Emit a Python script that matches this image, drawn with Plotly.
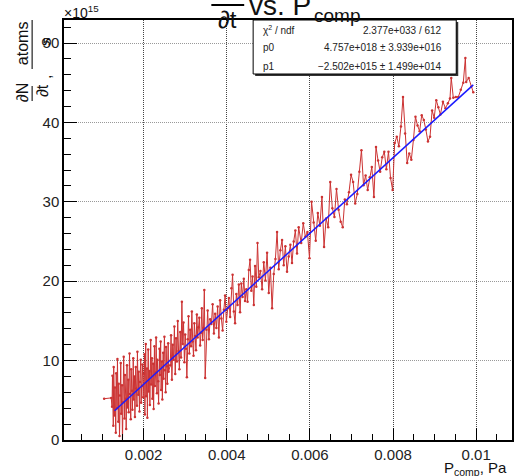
import plotly.graph_objects as go

# ---------------- data (x in Pa, y in units of 1e15 atoms/s) ----------------
x0 = [0.00105, 0.00122]
y0 = [5.2, 5.3]

xA = [0.00124,0.00125,0.00127,0.00128,0.00130,0.00131,0.00133,0.00134,0.00136,0.00137,
      0.00139,0.00140,0.00142,0.00143,0.00145,0.00146,0.00148,0.00149,0.00151,0.00152,
      0.00154,0.00155,0.00157,0.00158,0.00160,0.00161,0.00163,0.00164,0.00166,0.00167,
      0.00169,0.00170,0.00172,0.00173,0.00175,0.00176,0.00178,0.00179,0.00181,0.00182,
      0.00184,0.00185,0.00187,0.00188,0.00190,0.00191,0.00193,0.00194,0.00196,0.00197,
      0.00199,0.00200]
yA = [4.2, 8.1, 1.8, 9.2, 3.1, 6.6, 0.9, 8.4, 4.0, 10.2, 2.3, 7.1, 0.5, 5.6, 9.7, 3.3,
      6.9, -0.6, 4.8, 10.5, 2.7, 8.2, 5.2, 1.4, 9.4, 4.1, 7.6, 3.5, 10.9, 5.8, 2.6, 8.9,
      6.2, 3.8, 10.3, 5.1, 8.0, 2.9, 9.2, 6.5, 4.3, 11.1, 5.7, 8.6, 3.6, 7.3, 10.1, 4.7,
      6.8, 9.5, 5.4, 8.3]

xB = [0.00202,0.00203,0.00205,0.00206,0.00208,0.00209,0.00211,0.00212,0.00214,0.00215,
      0.00217,0.00218,0.00220,0.00221,0.00223,0.00224,0.00226,0.00227,0.00229,0.00230,
      0.00232,0.00233,0.00235,0.00236,0.00238,0.00239,0.00241,0.00242,0.00244,0.00245,
      0.00247,0.00248,0.00250,0.00251,0.00253,0.00254,0.00256,0.00257,0.00259,0.00260]
yB = [10.8, 3.2, 12.1, 5.5, 9.0, 2.8, 11.4, 6.1, 8.7, 4.4, 12.6, 7.0, 10.3, 5.2, 9.6, 3.9,
      11.8, 6.8, 8.5, 12.9, 5.9, 10.1, 7.4, 4.6, 11.5, 8.2, 12.4, 6.3, 9.9, 5.1, 11.0, 7.7,
      13.0, 8.8, 6.0, 11.7, 9.3, 7.1, 12.2, 8.6]

xC = [0.00264,0.00266,0.00268,0.00270,0.00272,0.00274,0.00276,0.00278,0.00280,0.00282,
      0.00284,0.00286,0.00288,0.00290,0.00292,0.00294,0.00296,0.00298,0.00300,0.00302,
      0.00304,0.00306,0.00308,0.00310,0.00312,0.00314,0.00316,0.00318,0.00320,0.00322,
      0.00324,0.00326,0.00328,0.00330,0.00332,0.00334,0.00336,0.00338,0.00340,0.00342,
      0.00344,0.00346,0.00348]
yC = [9.4, 13.2, 7.6, 12.0, 10.1, 14.3, 8.3, 12.8, 9.9, 15.0, 11.2, 8.9, 13.6, 10.4, 17.4,
      12.1, 14.8, 9.8, 13.3, 11.5, 7.9, 12.7, 15.6, 10.9, 13.9, 11.8, 16.2, 12.4, 10.6, 14.7,
      13.1, 11.3, 15.8, 12.9, 14.2, 15.4, 11.9, 13.5, 16.6, 12.6, 14.1, 18.9, 7.8]

xD = [0.00351,0.00354,0.00357,0.00360,0.00363,0.00366,0.00369,0.00372,0.00375,0.00378,
      0.00381,0.00384,0.00387,0.00390,0.00393,0.00396,0.00399,0.00402,0.00405,0.00408,
      0.00411,0.00414,0.00417,0.00420,0.00423,0.00426,0.00429,0.00432,0.00435,0.00438,
      0.00441,0.00444,0.00447,0.00450,0.00453,0.00456,0.00459,0.00462,0.00465,0.00468,
      0.00471,0.00474,0.00477]
yD = [13.9, 16.3, 12.7, 15.2, 14.6, 17.1, 13.4, 15.9, 14.1, 16.8, 12.9, 17.6, 15.3, 13.8,
      16.4, 18.2, 14.9, 16.6, 17.9, 15.5, 19.1, 20.8, 16.2, 14.7, 18.4, 17.0, 19.6, 16.1,
      19.7, 18.0, 20.3, 17.5, 19.0, 17.4, 21.4, 22.7, 18.8, 20.6, 17.0, 21.9, 19.3, 24.8, 20.5]

xE = [0.00481,0.00485,0.00489,0.00493,0.00497,0.00501,0.00505,0.00509,0.00513,0.00517,
      0.00521,0.00525,0.00529,0.00533,0.00537,0.00541,0.00545,0.00549,0.00553,0.00557,
      0.00561,0.00565,0.00569,0.00573]
yE = [21.3, 19.0, 22.4, 20.1, 23.6, 18.5, 21.7, 16.6, 20.9, 22.8, 26.2, 21.5, 23.9, 25.2,
      22.0, 24.4, 21.2, 23.1, 24.6, 22.3, 25.0, 26.4, 23.5, 26.8]

xF = [0.00579,0.00584,0.00589,0.00594,0.00599,0.00604,0.00609,0.00614,0.00619,0.00624,
      0.00629,0.00634,0.00639,0.00644,0.00649,0.00654,0.00659,0.00664,0.00669,0.00674,
      0.00679,0.00684,0.00689,0.00694,0.00699,0.00704,0.00709,0.00714,0.00719,0.00724,
      0.00729,0.00734,0.00739]
yF = [24.8, 27.3, 25.6, 26.2, 22.9, 30.0, 27.4, 25.1, 28.6, 27.0, 30.6, 24.3, 27.9, 26.8,
      32.5, 29.2, 28.1, 31.6, 29.0, 27.5, 26.8, 30.3, 29.7, 31.2, 33.4, 32.5, 29.8, 31.0,
      33.8, 36.5, 32.1, 33.3, 31.5]

xG = [0.00744,0.00749,0.00754,0.00759,0.00764,0.00769,0.00774,0.00779,0.00784,0.00789,
      0.00794,0.00799,0.00804,0.00809,0.00814,0.00819,0.00824,0.00829,0.00834,0.00839,
      0.00844,0.00849,0.00854,0.00859,0.00864,0.00869,0.00874,0.00879,0.00884,0.00889,
      0.00894,0.00899,0.00904,0.00909]
yG = [33.1, 34.4, 30.6, 36.9, 35.2, 33.8, 35.6, 36.3, 34.1, 36.3, 33.0, 31.5, 37.4, 38.2,
      37.0, 39.5, 43.2, 38.6, 34.9, 36.1, 35.3, 37.8, 40.7, 39.6, 38.9, 40.9, 40.3, 39.1,
      37.6, 38.2, 41.5, 40.6, 42.8, 41.9]

xH = [0.00914,0.00920,0.00926,0.00932,0.00937,0.00940,0.00945,0.00951,0.00957,0.00963,
      0.00969,0.00974,0.00976,0.00982,0.00988,0.00993]
yH = [41.0, 42.6, 41.8, 42.4, 43.0, 45.6, 43.1, 43.2, 43.2, 44.1, 45.0, 48.1, 45.1, 45.6,
      44.5, 43.8]

# fit parameters (from the stats box): y = p0 * x + p1
p0 = 4.757e18
p1 = -2.502e15
fit_x = [0.00130, 0.00993]

x_tick_vals = [0.002, 0.004, 0.006, 0.008, 0.010]
x_tick_text = ["0.002", "0.004", "0.006", "0.008", "0.01"]
y_tick_vals = [0, 10, 20, 30, 40, 50]
y_tick_text = ["0", "10", "20", "30", "40", "50"]

stats_rows = [
    ("χ<sup>2</sup> / ndf", "2.377e+033 / 612"),
    ("p0", "4.757e+018 ± 3.939e+016"),
    ("p1", "−2.502e+015 ± 1.499e+014"),
]

# ---------------- figure ----------------
xs = x0 + xA + xB + xC + xD + xE + xF + xG + xH
ys = y0 + yA + yB + yC + yD + yE + yF + yG + yH
fit_y = [(p0 * v + p1) / 1e15 for v in fit_x]

W, H = 514, 476
L, T, B = 64, 20, 440
R = 514
X_RANGE = [0.000084, 0.010862]
Y_RANGE = [0, 52.9]

def px(xp):
    return (xp - L) / (R - L)

def py(yp):
    return (B - yp) / (B - T)

FONT = "Liberation Sans, Arial, Helvetica, sans-serif"
RED = "#cc3333"

fig = go.Figure()
fig.add_trace(go.Scatter(x=xs, y=ys, mode="lines+markers",
                         line=dict(color=RED, width=1),
                         marker=dict(color=RED, size=2.5),
                         showlegend=False, hoverinfo="skip"))
fig.add_trace(go.Scatter(x=fit_x, y=fit_y, mode="lines",
                         line=dict(color="#1a1aff", width=1.5),
                         showlegend=False, hoverinfo="skip"))

fig.update_layout(
    width=W, height=H,
    margin=dict(l=L, r=W - R, t=T, b=H - B, pad=0),
    paper_bgcolor="white", plot_bgcolor="white",
    font=dict(family=FONT, color="#222222", size=15),
    xaxis=dict(range=X_RANGE, tickvals=x_tick_vals, ticktext=x_tick_text,
               ticks="inside", ticklen=12, tickcolor="black", tickwidth=1,
               showline=True, linecolor="black", linewidth=1.5, mirror=True,
               showgrid=True, gridcolor="#444444", griddash="1px,1px", gridwidth=1,
               zeroline=False, tickfont=dict(size=15, family=FONT, color="#222"),
               minor=dict(dtick=0.0005, tick0=0, ticks="inside", ticklen=6,
                          tickcolor="black", showgrid=False)),
    yaxis=dict(range=Y_RANGE, tickvals=y_tick_vals, ticktext=y_tick_text,
               ticks="inside", ticklen=13, tickcolor="black", tickwidth=1,
               showline=True, linecolor="black", linewidth=1.5, mirror=True,
               showgrid=True, gridcolor="#999999", griddash="1px,1px", gridwidth=1,
               zeroline=False, tickfont=dict(size=15, family=FONT, color="#222"),
               minor=dict(dtick=2, tick0=0, ticks="inside", ticklen=7,
                          tickcolor="black", showgrid=False)),
)

shapes = []
# stats box shadow + box
shapes.append(dict(type="rect", xref="paper", yref="paper",
                   x0=px(256), x1=px(460), y0=py(76), y1=py(22),
                   fillcolor="#333333", line=dict(width=0), layer="above"))
shapes.append(dict(type="rect", xref="paper", yref="paper",
                   x0=px(254), x1=px(458), y0=py(74), y1=py(20),
                   fillcolor="white", line=dict(color="black", width=1), layer="above"))
# title fraction bar
shapes.append(dict(type="line", xref="paper", yref="paper",
                   x0=px(212), x1=px(245), y0=py(5), y1=py(5),
                   line=dict(color="black", width=2)))
# y-title fraction bars
shapes.append(dict(type="line", xref="paper", yref="paper",
                   x0=px(32), x1=px(32), y0=py(86), y1=py(101),
                   line=dict(color="#222", width=1.2)))
shapes.append(dict(type="line", xref="paper", yref="paper",
                   x0=px(32), x1=px(32), y0=py(20), y1=py(69),
                   line=dict(color="#222", width=1.2)))
fig.update_layout(shapes=shapes)

ann = []
def add(text, x, y, size, xanchor="center", yanchor="middle", angle=0, color="#111"):
    ann.append(dict(text=text, x=px(x), y=py(y), xref="paper", yref="paper",
                    xanchor=xanchor, yanchor=yanchor, showarrow=False,
                    textangle=angle, font=dict(size=size, family=FONT, color=color)))

add("×10<sup>15</sup>", 62, 12, 14, xanchor="left")
add("∂t", 228, 19, 24)
add("vs. P", 248, 6, 28, xanchor="left")
add("comp", 313, 15, 19, xanchor="left")
add("P<sub>comp</sub>, Pa", 511, 468, 15, xanchor="right")
# y title
add("∂N", 22, 93, 16, angle=-90)
add("∂t", 43, 91, 16, angle=-90)
add(",", 46, 77, 16, angle=-90)
add("atoms", 22, 43, 16, angle=-90)
add("s", 45, 42, 16, angle=-90)
# stats box text
for i, (lab, val) in enumerate(stats_rows):
    yy = 30 + i * 18
    add(lab, 262, yy, 10, xanchor="left", color="#222")
    add(val, 446, yy, 10, xanchor="right", color="#222")
fig.update_layout(annotations=ann)

fig.write_html("out.html", config={"displayModeBar": False},
               post_script="document.body.style.margin='0';")
